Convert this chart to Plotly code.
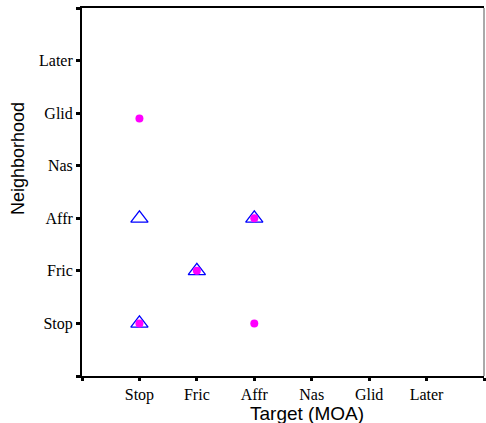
import plotly.graph_objects as go

categories = ["Stop", "Fric", "Affr", "Nas", "Glid", "Later"]

# Blue open triangles: (target code, neighborhood code)
tri_target = [1, 2, 3, 1]
tri_neigh = [1, 2, 3, 3]

# Magenta filled circles
circ_target = [1, 2, 3, 3, 1]
circ_neigh = [1, 2, 3, 1, 4.9]

fig = go.Figure()
fig.add_trace(go.Scatter(
    x=tri_target, y=tri_neigh, mode="markers",
    marker=dict(symbol="triangle-up-open", size=15, color="#0000FF",
                line=dict(width=1.3, color="#0000FF")),
    showlegend=False, hoverinfo="skip"))
fig.add_trace(go.Scatter(
    x=circ_target, y=circ_neigh, mode="markers",
    marker=dict(symbol="circle", size=8, color="#FF00FF"),
    showlegend=False, hoverinfo="skip"))

tick_font = dict(family="Liberation Serif", size=16, color="black")
tickvals = [0] + list(range(1, 7)) + [7]
ticktext = [""] + categories + [""]

fig.update_layout(
    width=486, height=423,
    margin=dict(l=82, r=2, t=8, b=47),
    paper_bgcolor="white", plot_bgcolor="white",
    xaxis=dict(range=[0, 7], tickvals=tickvals, ticktext=ticktext,
               showgrid=False, zeroline=False, showline=True,
               linecolor="black", linewidth=1.5, mirror=True,
               ticks="outside", ticklen=3, tickwidth=3, tickcolor="black",
               tickfont=tick_font),
    yaxis=dict(range=[0, 7], tickvals=tickvals, ticktext=ticktext,
               showgrid=False, zeroline=False, showline=True,
               linecolor="black", linewidth=2,
               ticks="outside", ticklen=4, tickwidth=3, tickcolor="black",
               tickfont=tick_font),
    shapes=[dict(type="line", xref="paper", yref="paper", x0=1, x1=1, y0=0, y1=1,
                 line=dict(color="#555555", width=1))],
    annotations=[
        dict(text="Target (MOA)", xref="paper", yref="paper", x=0.56, y=-0.068,
             xanchor="center", yanchor="top", showarrow=False,
             font=dict(family="Liberation Sans", size=19, color="black")),
        dict(text="Neighborhood", xref="paper", yref="paper", x=-0.159, y=0.59,
             xanchor="center", yanchor="middle", textangle=-90, showarrow=False,
             font=dict(family="Liberation Sans", size=18, color="black")),
    ],
)

fig.write_html("out.html", config={"displayModeBar": False})
with open("out.html", encoding="utf-8") as f:
    html = f.read()
html = html.replace("<head>", "<head><style>html,body{margin:0;padding:0;overflow:hidden;}</style>", 1)
with open("out.html", "w", encoding="utf-8") as f:
    f.write(html)
